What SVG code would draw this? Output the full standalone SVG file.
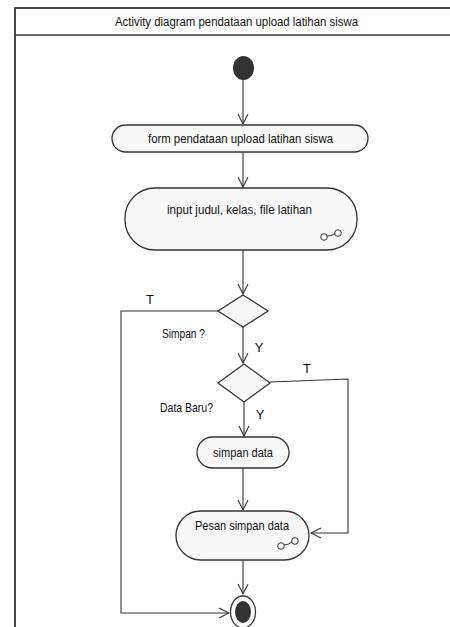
<svg xmlns="http://www.w3.org/2000/svg" width="450" height="627" viewBox="0 0 450 627">
<style>
.t{font-family:"Liberation Sans",Arial,sans-serif;font-size:13px;fill:#111;text-anchor:middle}
.n{fill:#f8f8f8;stroke:#333;stroke-width:1.3}
.c{fill:none;stroke:#333;stroke-width:1.1}
.ic{fill:none;stroke:#333;stroke-width:1}
</style>
<defs>
<marker id="a" markerWidth="12" markerHeight="12" refX="11" refY="6" orient="auto" markerUnits="userSpaceOnUse">
<path d="M1,1 L11,6 L1,11" fill="none" stroke="#333" stroke-width="1.1"/>
</marker>
</defs>
<rect width="450" height="627" fill="#fff"/>
<g id="frame">
<rect x="15" y="8" width="460" height="640" fill="#fff" stroke="#333" stroke-width="1.8"/>
<line x1="15" y1="35" x2="450" y2="35" stroke="#333" stroke-width="1.5"/>
<text class="t" x="236.5" y="26" textLength="243" lengthAdjust="spacingAndGlyphs">Activity diagram pendataan upload latihan siswa</text>
</g>
<g id="connectors">
<line class="c" x1="243" y1="80" x2="243" y2="124" marker-end="url(#a)"/>
<line class="c" x1="243" y1="152" x2="243" y2="187" marker-end="url(#a)"/>
<line class="c" x1="243" y1="250" x2="243" y2="294" marker-end="url(#a)"/>
<line class="c" x1="243" y1="327" x2="243" y2="363" marker-end="url(#a)"/>
<line class="c" x1="244" y1="402" x2="244" y2="436" marker-end="url(#a)"/>
<line class="c" x1="243" y1="468" x2="243" y2="510" marker-end="url(#a)"/>
<line class="c" x1="243" y1="560" x2="243" y2="594" marker-end="url(#a)"/>
<polyline class="c" points="218,311 121,311 121,613 229,613" marker-end="url(#a)"/>
<polyline class="c" points="270,382 348,379 348,533 311,533" marker-end="url(#a)"/>
<text class="t" x="150" y="304">T</text>
<text class="t" x="183.5" y="338" textLength="43" lengthAdjust="spacingAndGlyphs">Simpan ?</text>
<text class="t" x="259" y="352">Y</text>
<text class="t" x="307" y="373">T</text>
<text class="t" x="186.5" y="412" textLength="53" lengthAdjust="spacingAndGlyphs">Data Baru?</text>
<text class="t" x="260" y="419">Y</text>
</g>
<g id="start">
<ellipse cx="243.5" cy="68" rx="10.5" ry="12" fill="#333"/>
</g>
<g id="form">
<rect class="n" x="112" y="125" width="256" height="27" rx="13.5"/>
<text class="t" x="240.5" y="143" textLength="185" lengthAdjust="spacingAndGlyphs">form pendataan upload latihan siswa</text>
</g>
<g id="input">
<rect class="n" x="125" y="188" width="232" height="62" rx="30"/>
<text class="t" x="239.5" y="214" textLength="145" lengthAdjust="spacingAndGlyphs">input judul, kelas, file latihan</text>
<circle class="ic" cx="324" cy="237" r="3.3"/>
<circle class="ic" cx="338" cy="233" r="3.3"/>
<path class="ic" d="M327,236 Q331,236 335,234"/>
</g>
<g id="d1">
<polygon class="n" points="243,295 268,311 243,327 218,311"/>
</g>
<g id="d2">
<polygon class="n" points="244,364 270,383 244,402 218,383"/>
</g>
<g id="simpan">
<rect class="n" x="197" y="437" width="92" height="31" rx="15.5"/>
<text class="t" x="243" y="457" textLength="60" lengthAdjust="spacingAndGlyphs">simpan data</text>
</g>
<g id="pesan">
<rect class="n" x="176" y="511" width="133" height="49" rx="24.5"/>
<text class="t" x="242" y="530" textLength="94" lengthAdjust="spacingAndGlyphs">Pesan simpan data</text>
<circle class="ic" cx="281" cy="546" r="3.3"/>
<circle class="ic" cx="295" cy="541" r="3.3"/>
<path class="ic" d="M284,545 Q288,545 292,542"/>
</g>
<g id="end">
<ellipse cx="243" cy="612" rx="12.5" ry="16" fill="#fff" stroke="#333" stroke-width="1.3"/>
<ellipse cx="243" cy="612" rx="8" ry="11" fill="#333"/>
</g>
</svg>
